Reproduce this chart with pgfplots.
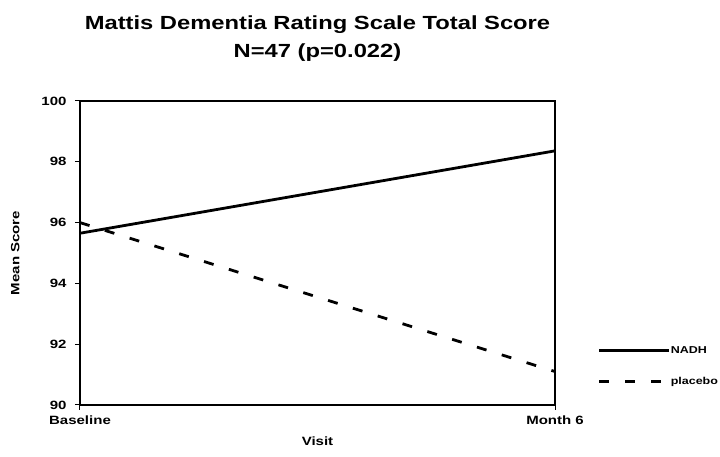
\documentclass[border=0pt]{standalone}
\usepackage{fontspec}
\setmainfont[FakeStretch=1.25]{Liberation Sans}
\usepackage{pgfplots}
\pgfplotsset{compat=1.18}
\begin{document}
\begin{tikzpicture}[x=1pt,y=1pt]
\useasboundingbox (0,0) rectangle (720,457);
\begin{axis}[
  at={(80pt,52pt)}, anchor=south west,
  scale only axis, width=475pt, height=304pt,
  xmin=0, xmax=1, ymin=90, ymax=100,
  xtick={0,1}, xticklabels={Baseline,Month 6},
  ytick={90,92,94,96,98,100},
  xtick pos=bottom, ytick pos=left,
  tick align=outside, tick style={black, line width=1pt},
  major tick length=5pt,
  axis line style={line width=1.6pt},
  ticklabel style={font=\fontsize{12}{13}\selectfont\bfseries},
  yticklabel style={xshift=-5pt},
  xticklabel style={yshift=-2pt},
  /pgf/number format/assume math mode=true,
  xlabel={Visit}, ylabel={Mean Score},
  label style={font=\fontsize{12}{14}\selectfont\bfseries},
  xlabel style={yshift=-6pt},
  ylabel style={yshift=15pt},
  title={Mattis Dementia Rating Scale Total Score\\N=47 (p=0.022)},
  title style={align=center, font=\fontsize{19}{28}\selectfont\bfseries,
    at={(0.5,1)}, anchor=south, yshift=30pt},
  legend style={draw=none, fill=none, at={(1.09,0.128)}, anchor=west,
    font=\fontsize{10}{12}\selectfont\bfseries, row sep=19pt, inner sep=0pt,
    nodes={text height=9pt, text depth=3pt, inner sep=0pt}},
  legend cell align=left,
  legend image code/.code={\draw[#1] (0pt,0pt) -- (70pt,0pt);},
]
\addplot[black, line width=2.8pt] coordinates {(0,95.65) (1,98.36)};
\addlegendentry{NADH}
\addplot[black, line width=2.8pt, dash pattern=on 10pt off 16pt] coordinates {(0,96.0) (1,91.1)};
\addlegendentry{placebo}
\end{axis}
\end{tikzpicture}
\end{document}
